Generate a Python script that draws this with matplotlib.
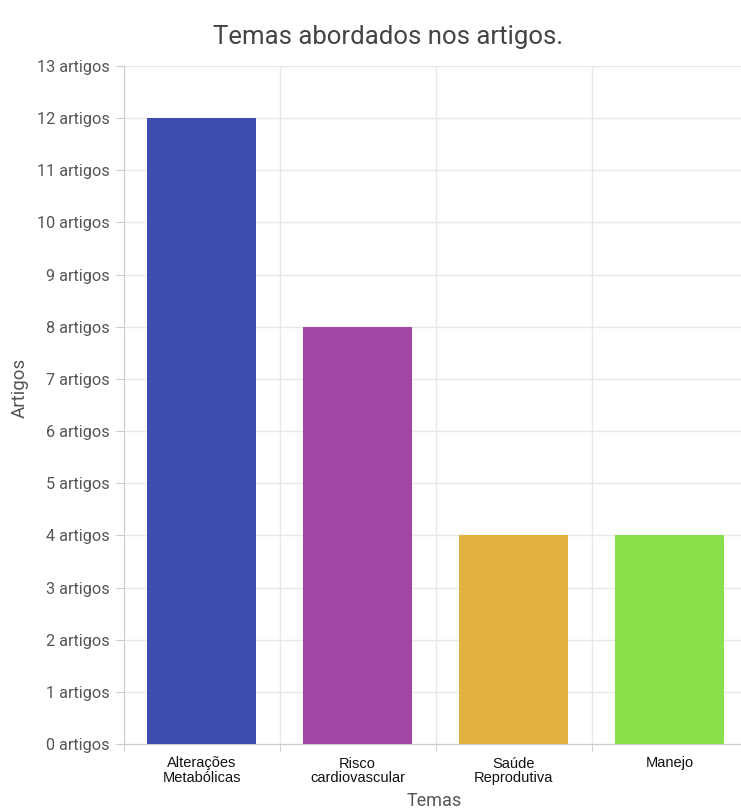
import matplotlib
matplotlib.use("Agg")
import matplotlib.pyplot as plt
from matplotlib.ticker import FixedLocator

categories = ["Alterações\nMetabólicas", "Risco\ncardiovascular", "Saúde\nReprodutiva", "Manejo"]
values = [12, 8, 4, 4]
colors = ["#3F4DAE", "#A245A4", "#E1B240", "#88E14A"]
yticks = list(range(0, 14))
ytick_labels = [f"{v} artigos" for v in yticks]

fig = plt.figure(figsize=(7.41, 8.11), dpi=100)
ax = fig.add_axes([123.5/741, 67/811, 624/741, 678/811])

x = list(range(len(categories)))
ax.bar(x, values, width=0.7, color=colors, zorder=3)

ax.set_xlim(-0.5, 3.5)
ax.set_ylim(0, 13)
ax.set_yticks(yticks)
ax.set_yticklabels(ytick_labels, fontsize=11.7, color="#555555", family="Roboto")
ax.set_xticks(x)
ax.set_xticklabels(categories, fontsize=10.5, color="#111111", family=["Liberation Sans", "DejaVu Sans"], va="top", linespacing=1.05)
ax.tick_params(axis="x", length=0, pad=9)
ax.xaxis.set_minor_locator(FixedLocator([-0.5, 0.5, 1.5, 2.5, 3.5]))
ax.tick_params(axis="x", which="minor", length=6, color="#cccccc")
ax.tick_params(axis="y", length=6, color="#cccccc", pad=4)

ax.grid(True, axis="y", color="#e8e8e8", linewidth=1, zorder=0)
ax.grid(True, axis="x", which="minor", color="#e8e8e8", linewidth=1, zorder=0)

for s in ["top", "right"]:
    ax.spines[s].set_visible(False)
for s in ["left", "bottom"]:
    ax.spines[s].set_color("#cccccc")

fig.text(388/741, 1 - 37/811, "Temas abordados nos artigos.", fontsize=18.5, color="#444444",
         family="Roboto", ha="center", va="center")
fig.text(20/741, 1 - 388/811, "Artigos", fontsize=13.5, color="#555555", family="Roboto",
         rotation=90, ha="center", va="center")
fig.text(434/741, 1 - 801/811, "Temas", fontsize=13, color="#555555", family="Roboto",
         ha="center", va="center")

fig.savefig("out.png", dpi=100, facecolor="white")
